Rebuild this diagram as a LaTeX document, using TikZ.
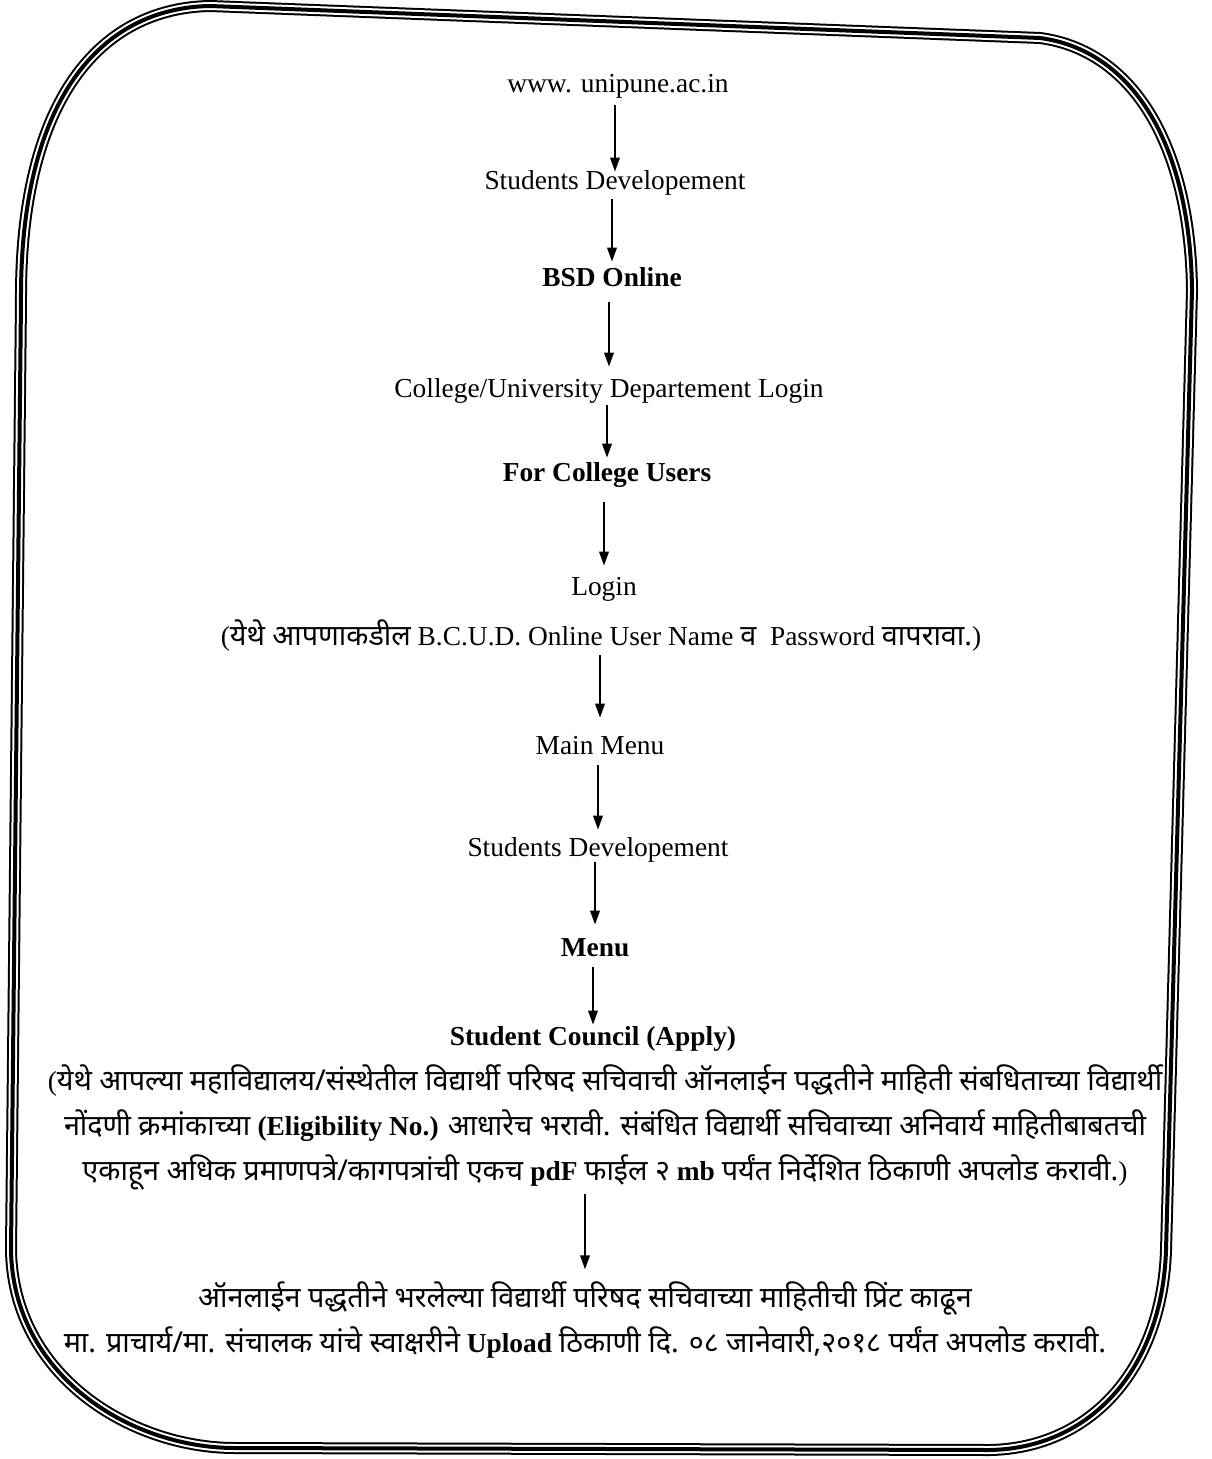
\documentclass[tikz,border=0pt]{standalone}
\usepackage{fontspec}
\setmainfont{Liberation Serif}
\newfontfamily\marathi[Script=Devanagari,Scale=1.05]{Noto Sans}
\usetikzlibrary{arrows.meta}

\begin{document}
\begin{tikzpicture}[x=0.5pt,y=-0.5pt,
		lbl/.style={inner sep=0pt,anchor=base,text height=9pt,text depth=0pt,font=\fontsize{13.7pt}{16pt}\selectfont},
		hdr/.style={lbl,font=\fontsize{13.7pt}{16pt}\selectfont\bfseries},
		note/.style={inner sep=0pt,align=center,font=\fontsize{13.7pt}{22.5pt}\selectfont},
		flow/.style={-{Triangle[length=7pt,width=4.8pt]},line width=0.9pt}]
		\useasboundingbox (0,0) rectangle (1211,1459);
		\foreach \w/\c in {6pt/black,4pt/white,2pt/black}
			\draw[line width=\w,\c,line join=round] (210,6) -- (1040,38) .. controls (1130,50) and (1190,140) .. (1192,290) -- (1166,1250) .. controls (1162,1370) and (1090,1448) .. (990,1450) -- (235,1448) .. controls (130,1448) and (13,1375) .. (11,1250) -- (21,300) .. controls (20,100) and (100,8) .. cycle;
		\node[lbl] (web) at (618,93) {www. unipune.ac.in};
		\node[lbl] (stud) at (615,190) {Students Developement};
		\node[hdr] (bsd) at (612,287) {BSD Online};
		\node[lbl] (college) at (609,398) {College/University Departement Login};
		\node[hdr] (forcol) at (607,481) {For College Users};
		\node[lbl] (login) at (604,595) {Login};
		\node[lbl] (loginnote) at (601,645) {({\marathi येथे आपणाकडील} B.C.U.D. Online User Name {\marathi व}\ \ Password {\marathi वापरावा.})};
		\node[lbl] (mainmenu) at (600,754) {Main Menu};
		\node[lbl] (stud2) at (598,856) {Students Developement};
		\node[hdr] (menu) at (595,956) {Menu};
		\node[hdr] (council) at (593,1045) {Student Council (Apply)};
		\node[note] (councilnote) at (605,1127) {({\marathi येथे आपल्या महाविद्यालय/संस्थेतील विद्यार्थी परिषद सचिवाची ऑनलाईन पद्धतीने माहिती संबधिताच्या विद्यार्थी}\\
			{\marathi नोंदणी क्रमांकाच्या} \textbf{(Eligibility No.)} {\marathi आधारेच भरावी. संबंधित विद्यार्थी सचिवाच्या अनिवार्य माहितीबाबतची}\\
			{\marathi एकाहून अधिक प्रमाणपत्रे/कागपत्रांची एकच} \textbf{pdF} {\marathi फाईल २} \textbf{mb} {\marathi पर्यंत निर्देशित ठिकाणी अपलोड करावी.})};
		\node[note] (upload) at (585,1320) {{\marathi ऑनलाईन पद्धतीने भरलेल्या विद्यार्थी परिषद सचिवाच्या माहितीची प्रिंट काढून}\\
			{\marathi मा. प्राचार्य/मा. संचालक यांचे स्वाक्षरीने} \textbf{Upload} {\marathi ठिकाणी दि. ०८ जानेवारी,२०१८ पर्यंत अपलोड करावी.}};
		\foreach \a/\b/\s/\e in {web/stud/6/0,stud/bsd/4.5/3.5,bsd/college/7.5/6.5,college/forcol/3.5/2.5,forcol/login/10.5/5.5,loginnote/mainmenu/5/9,mainmenu/stud2/5.5/4,stud2/menu/3/6.5,menu/council/5.5/1,councilnote/upload/2/6}
			\draw[flow,shorten <=\s pt,shorten >=\e pt] (\b.north |- \a.south) -- (\b.north);
\end{tikzpicture}
\end{document}
